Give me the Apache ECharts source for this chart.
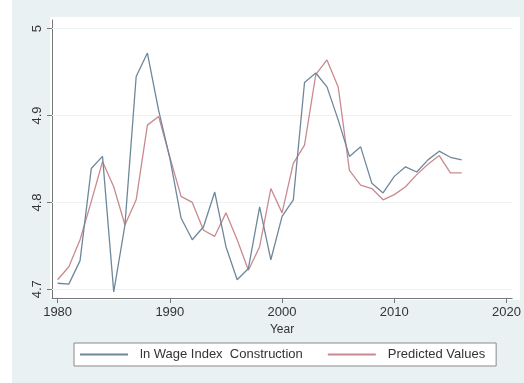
<!DOCTYPE html>
<html>
<head>
<meta charset="utf-8">
<title>ln Wage Index Construction</title>
<script src="https://cdn.jsdelivr.net/npm/echarts@6/dist/echarts.min.js"></script>
<style>
  html, body { margin: 0; padding: 0; background: #fff; }
  #main { width: 524px; height: 383px; }
</style>
</head>
<body>
<div id="main"></div>
<script>
// data
var years = [1980, 1981, 1982, 1983, 1984, 1985, 1986, 1987, 1988, 1989,
  1990, 1991, 1992, 1993, 1994, 1995, 1996, 1997, 1998, 1999,
  2000, 2001, 2002, 2003, 2004, 2005, 2006, 2007, 2008, 2009,
  2010, 2011, 2012, 2013, 2014, 2015, 2016];

var wageIndex = [4.707, 4.706, 4.733, 4.839, 4.853, 4.697, 4.774, 4.945, 4.972, 4.906,
  4.851, 4.782, 4.757, 4.772, 4.812, 4.749, 4.711, 4.724, 4.795, 4.734,
  4.784, 4.803, 4.938, 4.949, 4.933, 4.895, 4.853, 4.864, 4.822, 4.811,
  4.830, 4.841, 4.835, 4.849, 4.859, 4.852, 4.849];

var predicted = [4.711, 4.726, 4.757, 4.801, 4.847, 4.818, 4.774, 4.803, 4.889, 4.899,
  4.852, 4.807, 4.800, 4.768, 4.761, 4.788, 4.757, 4.722, 4.749, 4.816,
  4.788, 4.845, 4.866, 4.947, 4.964, 4.933, 4.837, 4.820, 4.816, 4.803,
  4.809, 4.818, 4.832, 4.844, 4.854, 4.834, 4.834];

var xTicks = [1980, 1990, 2000, 2010, 2020];
var yTicks = [4.7, 4.8, 4.9, 5];

var seriesNames = ['ln Wage Index  Construction', 'Predicted Values'];
var colors = ['#6f879b', '#c88a90'];

function pairs(vals) {
  return years.map(function (y, i) { return [y, vals[i]]; });
}

var chart = echarts.init(document.getElementById('main'), null, { renderer: 'canvas' });
var textFont = 'Liberation Sans, Arial, sans-serif';

var option = {
  animation: false,
  backgroundColor: '#fff',
  color: colors,
  graphic: [{
    type: 'rect',
    z: -10,
    shape: { x: 12, y: 0, width: 512, height: 383 },
    style: { fill: '#eaf1f3' }
  }, {
    type: 'rect',
    z: -9,
    shape: { x: 50, y: 17, width: 470, height: 283 },
    style: { fill: '#ffffff' }
  }],
  grid: {
    left: 52,
    right: 5,
    top: 20,
    bottom: 85
  },
  legend: {
    data: seriesNames,
    left: 74,
    top: 343,
    icon: 'rect',
    itemWidth: 48,
    itemHeight: 2,
    itemGap: 25,
    padding: [5, 11, 5, 6],
    backgroundColor: '#fff',
    borderColor: '#8a8a8a',
    borderWidth: 1,
    textStyle: {
      fontFamily: textFont,
      fontSize: 13,
      color: '#333',
      padding: [0, 0, 0, 7]
    }
  },
  xAxis: {
    type: 'value',
    min: 1979.5,
    max: 2020.5,
    name: 'Year',
    nameLocation: 'middle',
    nameGap: 26,
    nameTextStyle: { fontFamily: textFont, fontSize: 12, color: '#333' },
    axisLine: { show: true, onZero: false, lineStyle: { color: '#777', width: 1 } },
    axisTick: { show: true, length: 5, customValues: xTicks, lineStyle: { color: '#777' } },
    axisLabel: {
      customValues: xTicks,
      formatter: function (v) { return String(v); },
      fontFamily: textFont,
      fontSize: 13,
      color: '#333',
      margin: 8
    },
    splitLine: { show: false }
  },
  yAxis: {
    type: 'value',
    min: 4.69,
    max: 5.01,
    axisLine: { show: true, onZero: false, lineStyle: { color: '#777', width: 1 } },
    axisTick: { show: true, length: 5, customValues: yTicks, lineStyle: { color: '#777' } },
    axisLabel: {
      customValues: yTicks,
      formatter: function (v) { return String(v); },
      rotate: 90,
      fontFamily: textFont,
      fontSize: 13,
      color: '#333',
      margin: 8
    },
    splitLine: { show: false }
  },
  series: [{
    name: seriesNames[0],
    type: 'line',
    data: pairs(wageIndex),
    showSymbol: false,
    symbol: 'none',
    lineStyle: { width: 1.3, color: colors[0] },
    markLine: {
      silent: true,
      symbol: 'none',
      label: { show: false },
      lineStyle: { color: '#eef2f3', width: 1, type: 'solid' },
      data: yTicks.map(function (v) { return { yAxis: v }; }),
      z: 1
    },
    z: 3
  }, {
    name: seriesNames[1],
    type: 'line',
    data: pairs(predicted),
    showSymbol: false,
    symbol: 'none',
    lineStyle: { width: 1.3, color: colors[1] },
    z: 2
  }]
};

chart.setOption(option);
</script>
</body>
</html>
